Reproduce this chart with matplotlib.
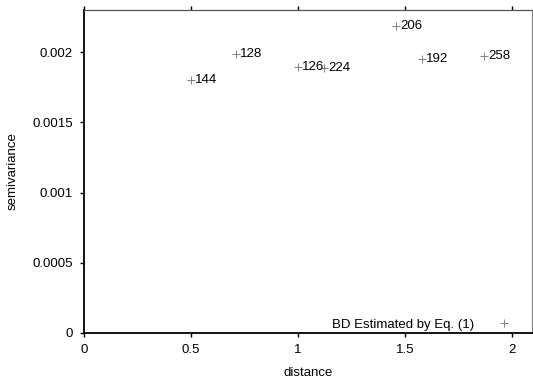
import matplotlib.pyplot as plt

plt.rcParams['font.family'] = ['Liberation Sans', 'DejaVu Sans']

# semivariance vs distance, labels are pair counts
distance = [0.50, 0.709, 1.001, 1.124, 1.458, 1.582, 1.872]
semivar = [0.001803, 0.001987, 0.001897, 0.001883, 0.002183, 0.001948, 0.001972]
counts = ['144', '128', '126', '224', '206', '192', '258']
xticks = [0, 0.5, 1, 1.5, 2]
xtick_labels = ['0', '0.5', '1', '1.5', '2']
yticks = [0, 0.0005, 0.001, 0.0015, 0.002]
ytick_labels = ['0', '0.0005', '0.001', '0.0015', '0.002']
legend_label = 'BD Estimated by Eq. (1)'

fig = plt.figure(figsize=(5.33, 3.81), dpi=100)
ax = fig.add_axes([0.158, 0.126, 0.8395, 0.848])

ax.plot(distance, semivar, linestyle='none', marker='+', markersize=6,
        markeredgewidth=0.7, color='#808080', label=legend_label)
for x, y, c in zip(distance, semivar, counts):
    ax.annotate(c, (x, y), xytext=(3, 0), textcoords='offset points',
                ha='left', va='center', fontsize=9.5, color='black')

ax.set_xlim(0, 2.094)
ax.set_ylim(0, 0.0023)
ax.set_xticks(xticks)
ax.set_xticklabels(xtick_labels)
ax.set_yticks(yticks)
ax.set_yticklabels(ytick_labels)
ax.tick_params(axis='both', direction='out', length=3, width=1, labelsize=9.5, pad=5)
ax.tick_params(axis='x', top=True, labeltop=False)

ax.spines['left'].set_linewidth(1.3)
ax.spines['bottom'].set_linewidth(1.3)
ax.spines['top'].set_color('#555555')
ax.spines['right'].set_color('#888888')
ax.spines['top'].set_linewidth(0.9)
ax.spines['right'].set_linewidth(0.9)

ax.set_xlabel('distance', fontsize=9.5, labelpad=8)
ax.set_ylabel('semivariance', fontsize=9.5, labelpad=10)

leg = ax.legend(loc='lower right', frameon=False, markerfirst=False, fontsize=9.5,
                handlelength=2.5, handletextpad=1.0, borderpad=0,
                bbox_to_anchor=(0.9895, -0.013))

fig.savefig('out.png', dpi=100)
